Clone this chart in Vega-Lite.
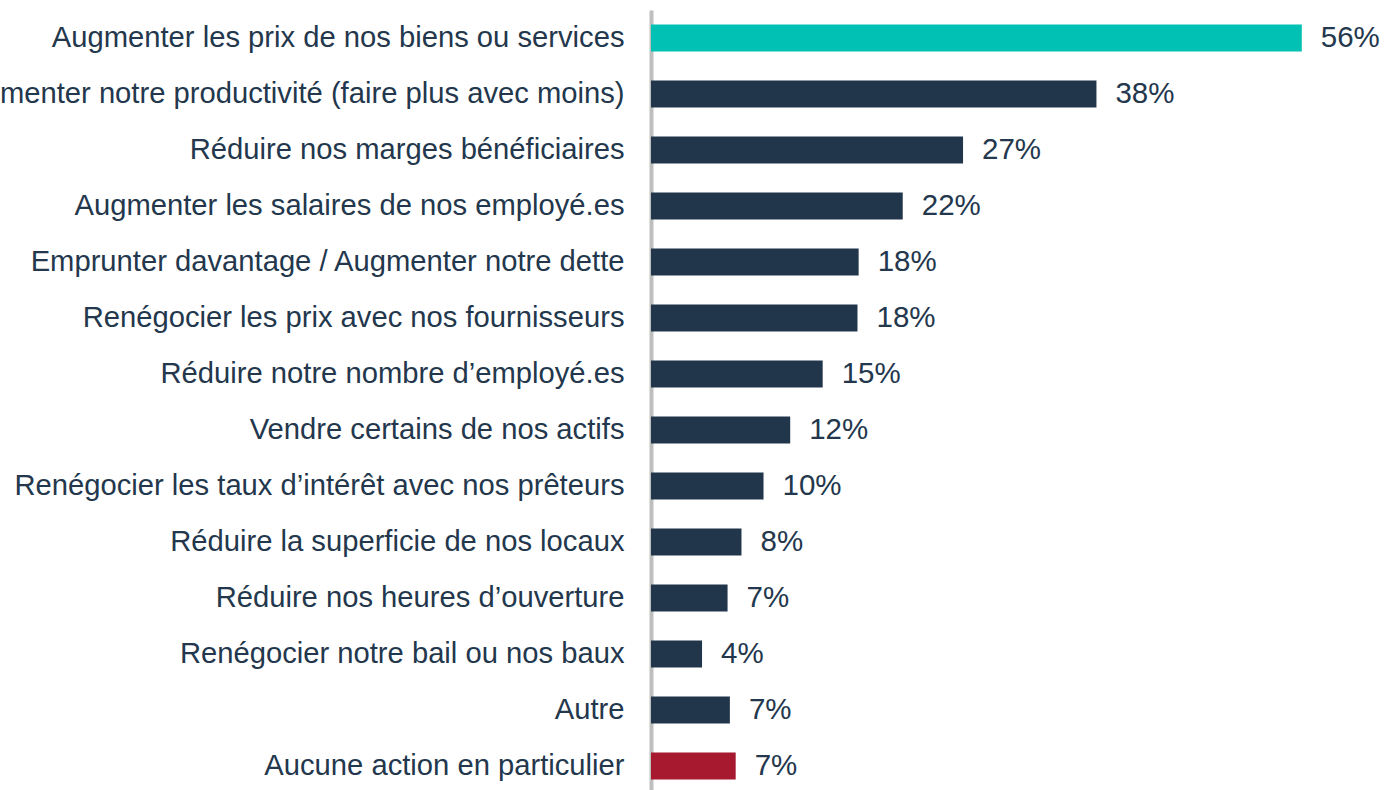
{
  "$schema": "https://vega.github.io/schema/vega-lite/v6.json",
  "width": 735,
  "height": 784,
  "autosize": {"type": "none"},
  "padding": {"left": 651, "top": 10, "right": 0, "bottom": 0},
  "config": {"view": {"stroke": null}, "font": "Liberation Sans"},
  "data": {
    "values": [
      {"action": "Augmenter les prix de nos biens ou services", "value": 56.1, "label": "56%", "group": "top"},
      {"action": "Augmenter notre productivité (faire plus avec moins)", "value": 38.4, "label": "38%", "group": "normal"},
      {"action": "Réduire nos marges bénéficiaires", "value": 26.9, "label": "27%", "group": "normal"},
      {"action": "Augmenter les salaires de nos employé.es", "value": 21.7, "label": "22%", "group": "normal"},
      {"action": "Emprunter davantage / Augmenter notre dette", "value": 17.9, "label": "18%", "group": "normal"},
      {"action": "Renégocier les prix avec nos fournisseurs", "value": 17.8, "label": "18%", "group": "normal"},
      {"action": "Réduire notre nombre d’employé.es", "value": 14.8, "label": "15%", "group": "normal"},
      {"action": "Vendre certains de nos actifs", "value": 12.0, "label": "12%", "group": "normal"},
      {"action": "Renégocier les taux d’intérêt avec nos prêteurs", "value": 9.7, "label": "10%", "group": "normal"},
      {"action": "Réduire la superficie de nos locaux", "value": 7.8, "label": "8%", "group": "normal"},
      {"action": "Réduire nos heures d’ouverture", "value": 6.6, "label": "7%", "group": "normal"},
      {"action": "Renégocier notre bail ou nos baux", "value": 4.4, "label": "4%", "group": "normal"},
      {"action": "Autre", "value": 6.8, "label": "7%", "group": "normal"},
      {"action": "Aucune action en particulier", "value": 7.3, "label": "7%", "group": "none"}
    ]
  },
  "encoding": {
    "y": {
      "field": "action",
      "type": "nominal",
      "sort": null,
      "scale": {"paddingInner": 0.52, "paddingOuter": 0.26},
      "axis": {
        "title": null,
        "ticks": false,
        "grid": false,
        "domain": true,
        "domainColor": "#BFBFBF",
        "domainWidth": 4,
        "labelFontSize": 29.2,
        "labelColor": "#23374D",
        "labelPadding": 27,
        "labelLimit": 2000,
        "labelBaseline": "middle"
      }
    },
    "x": {
      "field": "value",
      "type": "quantitative",
      "scale": {"domain": [0, 63.36], "nice": false, "zero": true},
      "axis": null
    }
  },
  "layer": [
    {
      "mark": {"type": "bar"},
      "encoding": {
        "color": {
          "field": "group",
          "type": "nominal",
          "scale": {"domain": ["top", "normal", "none"], "range": ["#00C1B4", "#22364B", "#A6192E"]},
          "legend": null
        }
      }
    },
    {
      "mark": {"type": "text", "align": "left", "baseline": "middle", "dx": 19, "fontSize": 29.5, "color": "#23374D"},
      "encoding": {"text": {"field": "label", "type": "nominal"}}
    }
  ]
}
